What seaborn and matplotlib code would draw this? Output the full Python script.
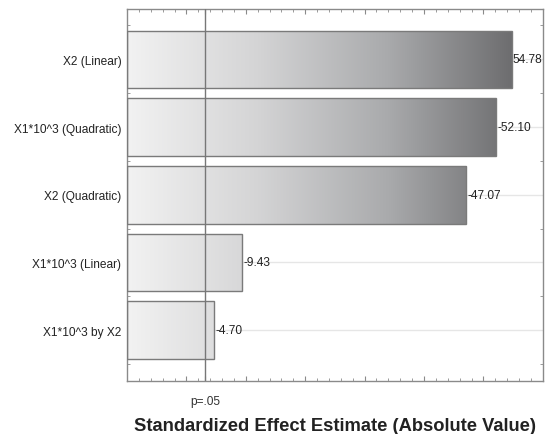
import numpy as np
import pandas as pd
import matplotlib
matplotlib.use("Agg")
import matplotlib.pyplot as plt
from matplotlib.ticker import MultipleLocator, FixedLocator
import seaborn as sns

# Pareto chart of standardized effects
terms = ["X2 (Linear)", "X1*10^3 (Quadratic)", "X2 (Quadratic)",
         "X1*10^3 (Linear)", "X1*10^3 by X2"]
effects = [54.78, -52.10, -47.07, -9.43, -4.70]
p_crit = 3.182  # t critical value, p=.05

df = pd.DataFrame({"term": terms, "effect": effects})
df["abs_effect"] = df["effect"].abs()

sns.set_style("white")
plt.rcParams['font.family'] = ['Liberation Sans', 'DejaVu Sans']

fig = plt.figure(figsize=(5.45, 4.35), dpi=100)
ax = fig.add_axes([0.233, 0.122, 0.763, 0.856])

sns.barplot(data=df, x="abs_effect", y="term", orient="h", ax=ax,
            width=0.85, color="#dddddd", edgecolor="#7a7a7a", linewidth=1,
            zorder=3)

xlim = (-10, 60)
ylim = (4.75, -0.75)
ax.set_xlim(*xlim)
ax.set_ylim(*ylim)

# bars start from left edge of the axis, grey gradient left->right
grad = np.linspace(0, 1, 256).reshape(1, -1)
cmap = matplotlib.colors.LinearSegmentedColormap.from_list(
    "g", ["#f2f2f2", "#d4d4d5", "#a9aaac", "#6a6a6c"])
for patch in ax.patches:
    w = patch.get_width()
    patch.set_x(xlim[0])
    patch.set_width(w - xlim[0])
    patch.set_facecolor("none")
    im = ax.imshow(grad, cmap=cmap, aspect="auto", vmin=0, vmax=1,
                   extent=[xlim[0], 56, ylim[0], ylim[1]], zorder=2,
                   interpolation="bilinear")
    im.set_clip_path(patch)
ax.set_xlim(*xlim)
ax.set_ylim(*ylim)

# horizontal grid lines at bar centers
for i in range(len(terms)):
    ax.axhline(i, color="#e6e6e6", lw=1, zorder=1)

# value labels
for i, (v, a) in enumerate(zip(effects, df["abs_effect"])):
    ax.text(a + 0.2, i, f"{v:.2f}", va="center", ha="left", fontsize=8.6,
            color="#222222", zorder=5)

ax.axvline(p_crit, color="#777777", lw=1, zorder=4)

for s in ax.spines.values():
    s.set_color("#8a8a8a")
    s.set_linewidth(1)

ax.xaxis.set_major_locator(FixedLocator([p_crit, 0, 10, 20, 30, 40, 50]))
ax.set_xticklabels(["p=.05", "", "", "", "", "", ""], fontsize=8.6,
                   color="#333333")
ax.tick_params(axis="x", which="major", direction="in", length=3.5,
               top=True, bottom=True, color="#8a8a8a", pad=10)
ax.xaxis.set_minor_locator(MultipleLocator(2))
ax.tick_params(axis="x", which="minor", direction="in", length=2,
               top=True, bottom=True, color="#8a8a8a")
ax.tick_params(axis="y", which="major", direction="in", length=2,
               left=True, color="#8a8a8a", labelsize=8.6,
               labelcolor="#222222", pad=4)
ax.yaxis.set_minor_locator(FixedLocator(np.arange(-0.5, 5, 1)))
ax.tick_params(axis="y", which="minor", direction="in", length=2,
               left=True, right=True, color="#8a8a8a")

ax.set_ylabel("")
ax.set_xlabel("Standardized Effect Estimate (Absolute Value)",
              fontsize=13.2, fontweight="bold", color="#222222", labelpad=7)

fig.savefig("out.png", dpi=100)
